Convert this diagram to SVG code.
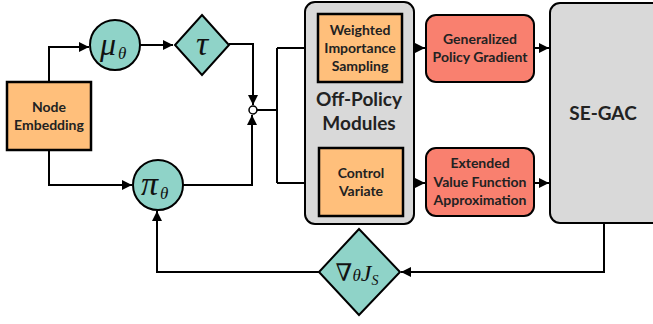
<svg xmlns="http://www.w3.org/2000/svg" width="653" height="324" viewBox="0 0 653 324">
<defs>
<style>
.ln{fill:none;stroke:#000;stroke-width:2}
.teal{fill:#8FD3C8;stroke:#000;stroke-width:2}
.org{fill:#FFBF7B;stroke:#000;stroke-width:2.5}
.red{fill:#F9806F;stroke:#000;stroke-width:2}
.gry{fill:#D9D9D9;stroke:#000;stroke-width:2}
.t{font-family:Lato,"Open Sans","Liberation Sans",sans-serif;font-weight:bold;font-size:14px;fill:#222;text-anchor:middle}
.big{font-size:19px}
.m{font-family:"Liberation Serif","DejaVu Serif",serif;font-style:italic;fill:#111}
</style>
<marker id="ah" viewBox="0 0 10 10" refX="10" refY="5" markerWidth="5" markerHeight="5" orient="auto"><path d="M0,0 L10,5 L0,10 z" fill="#000"/></marker>
</defs>
<g id="connectors">
<path class="ln" d="M49,82 V47 H89" marker-end="url(#ah)"/>
<path class="ln" d="M140,45 H173" marker-end="url(#ah)"/>
<path class="ln" d="M229,44 H253 V105" marker-end="url(#ah)"/>
<path class="ln" d="M49,150 V185 H132" marker-end="url(#ah)"/>
<path class="ln" d="M183,185 H252 V115" marker-end="url(#ah)"/>
<path class="ln" d="M257,110 H277"/>
<path class="ln" d="M277,48 V183"/>
<path class="ln" d="M277,48 H316" marker-end="url(#ah)"/>
<path class="ln" d="M277,183 H318" marker-end="url(#ah)"/>
<path class="ln" d="M402,48 H425" marker-end="url(#ah)"/>
<path class="ln" d="M403,183 H425" marker-end="url(#ah)"/>
<path class="ln" d="M534,48 H549" marker-end="url(#ah)"/>
<path class="ln" d="M534,183 H549" marker-end="url(#ah)"/>
<path class="ln" d="M604,223 V272 H401" marker-end="url(#ah)"/>
<path class="ln" d="M319,272 H157 V211" marker-end="url(#ah)"/>
<circle cx="253" cy="110" r="4" fill="#fff" stroke="#000" stroke-width="1.5"/>
</g>
<g id="node-embedding">
<rect class="org" x="7" y="82" width="84" height="68"/>
<text class="t" x="49" y="112">Node</text>
<text class="t" x="49" y="130">Embedding</text>
</g>
<g id="mu">
<circle class="teal" cx="115" cy="45" r="25"/>
<text class="m" x="100" y="55" font-size="32">μ</text>
<text class="m" x="118" y="59" font-size="17">θ</text>
</g>
<g id="tau">
<polygon class="teal" points="202,15 229,45 202,75 175,45"/>
<text class="m" x="202" y="55" font-size="34" text-anchor="middle">τ</text>
</g>
<g id="pi">
<circle class="teal" cx="158" cy="185" r="25"/>
<text class="m" x="141" y="195" font-size="34">π</text>
<text class="m" x="160" y="199" font-size="17">θ</text>
</g>
<g id="off-policy">
<rect class="gry" x="305" y="2" width="109" height="222" rx="10"/>
<text class="t big" x="359" y="106">Off-Policy</text>
<text class="t big" x="359" y="130">Modules</text>
</g>
<g id="wis">
<rect class="org" x="318" y="14" width="84" height="68"/>
<text class="t" x="360" y="35">Weighted</text>
<text class="t" x="360" y="53">Importance</text>
<text class="t" x="360" y="71">Sampling</text>
</g>
<g id="cv">
<rect class="org" x="319" y="148" width="84" height="68"/>
<text class="t" x="361" y="178">Control</text>
<text class="t" x="361" y="196">Variate</text>
</g>
<g id="gpg">
<rect class="red" x="426" y="15" width="108" height="67" rx="10"/>
<text class="t" x="480" y="44">Generalized</text>
<text class="t" x="480" y="62">Policy Gradient</text>
</g>
<g id="evfa">
<rect class="red" x="426" y="148" width="108" height="68" rx="10"/>
<text class="t" x="480" y="168">Extended</text>
<text class="t" x="480" y="187">Value Function</text>
<text class="t" x="480" y="205">Approximation</text>
</g>
<g id="se-gac">
<rect class="gry" x="550" y="3" width="112" height="220" rx="10"/>
<text class="t big" x="603" y="120">SE-GAC</text>
</g>
<g id="grad">
<polygon class="teal" points="359,229 400,272 359,315 319,272"/>
<text class="m" x="357" y="281" font-size="24" text-anchor="middle"><tspan font-style="normal">∇</tspan><tspan font-size="17">θ</tspan>J<tspan font-size="14" dy="4">S</tspan></text>
</g>
</svg>
